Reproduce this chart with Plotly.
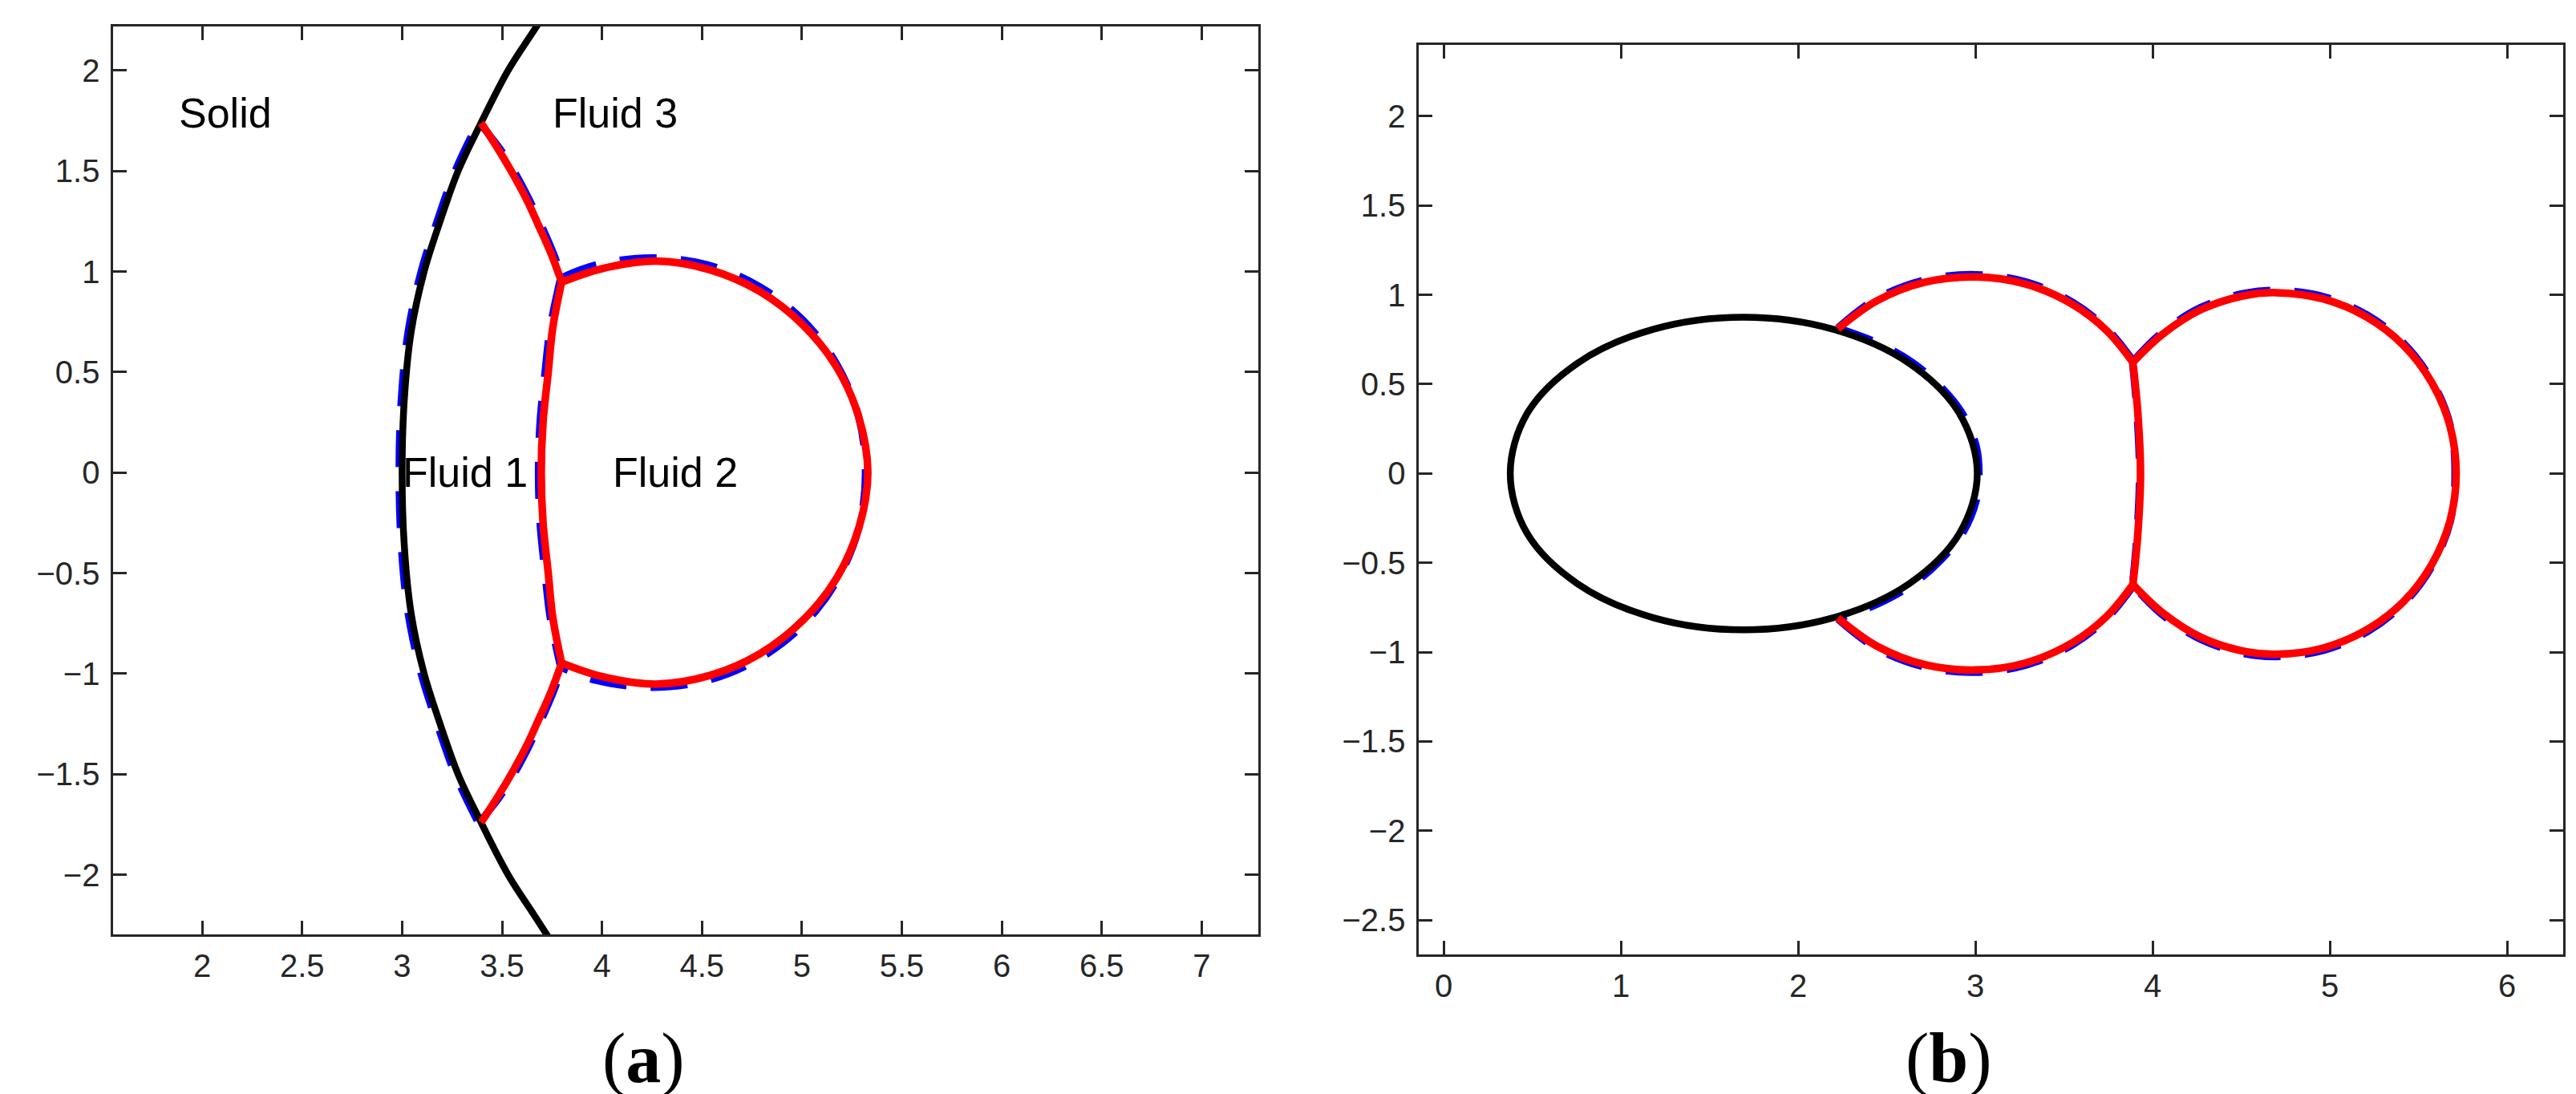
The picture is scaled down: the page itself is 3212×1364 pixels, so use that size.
import plotly.graph_objects as go

W, H = 3212, 1364

# ---------------- panel (a) data ----------------
wall_a_x = [3.79, 3.66, 3.53, 3.39, 3.28, 3.19, 3.11, 3.045, 3.01, 3.00, 3.01, 3.045, 3.11, 3.19, 3.28, 3.39, 3.53, 3.66, 3.79]
wall_a_y = [-2.4, -2.2, -2.0, -1.73, -1.5, -1.25, -1.0, -0.7, -0.35, 0.0, 0.35, 0.7, 1.0, 1.25, 1.5, 1.73, 2.0, 2.2, 2.4]

red_a_top_x = [3.395, 3.48, 3.556, 3.622, 3.681, 3.745, 3.798]
red_a_top_y = [1.740, 1.61, 1.482, 1.36, 1.233, 1.09, 0.948]
red_a_bot_x = [3.395, 3.48, 3.556, 3.622, 3.681, 3.745, 3.798]
red_a_bot_y = [-1.740, -1.61, -1.482, -1.36, -1.233, -1.09, -0.948]

red_a_mid_x = [3.798, 3.753, 3.731, 3.705, 3.696, 3.705, 3.731, 3.753, 3.798]
red_a_mid_y = [0.948, 0.716, 0.5, 0.25, 0.0, -0.25, -0.5, -0.716, -0.948]

red_a_drop_x = [3.800, 3.998, 4.270, 4.540, 4.790, 5.005, 5.175, 5.286, 5.330,
                5.286, 5.175, 5.005, 4.790, 4.540, 4.270, 3.998, 3.800]
red_a_drop_y = [0.948, 1.014, 1.052, 1.009, 0.901, 0.735, 0.523, 0.272, 0.0,
                -0.272, -0.523, -0.735, -0.901, -1.009, -1.052, -1.014, -0.948]

blue_a_wall_x = [3.375, 3.265, 3.175, 3.095, 3.03, 2.995, 2.985, 2.995, 3.03, 3.095, 3.175, 3.265, 3.375]
blue_a_wall_y = [-1.73, -1.5, -1.25, -1.0, -0.7, -0.35, 0.0, 0.35, 0.7, 1.0, 1.25, 1.5, 1.73]

blue_a_top_x = [3.39, 3.49, 3.57, 3.635, 3.695, 3.757, 3.805]
blue_a_top_y = [1.735, 1.61, 1.482, 1.36, 1.233, 1.09, 0.955]
blue_a_bot_x = [3.39, 3.49, 3.57, 3.635, 3.695, 3.757, 3.805]
blue_a_bot_y = [-1.735, -1.61, -1.482, -1.36, -1.233, -1.09, -0.955]

blue_a_mid_x = [3.79, 3.74, 3.715, 3.69, 3.682, 3.69, 3.715, 3.74, 3.79]
blue_a_mid_y = [0.955, 0.716, 0.5, 0.25, 0.0, -0.25, -0.5, -0.716, -0.955]

blue_a_drop_x = [3.798, 3.973, 4.25, 4.527, 4.785, 5.007, 5.177, 5.284, 5.318,
                 5.284, 5.177, 5.007, 4.785, 4.527, 4.25, 3.973, 3.798]
blue_a_drop_y = [0.970, 1.034, 1.068, 1.034, 0.927, 0.757, 0.535, 0.277, 0.0,
                 -0.277, -0.535, -0.757, -0.927, -1.034, -1.068, -1.034, -0.970]

labels_a_text = ["Solid", "Fluid 3", "Fluid 1", "Fluid 2"]
labels_a_x = [1.875, 3.745, 2.995, 4.045]
labels_a_y = [1.79, 1.79, 0.0, 0.0]

xt_a = [2, 2.5, 3, 3.5, 4, 4.5, 5, 5.5, 6, 6.5, 7]
xt_a_text = ["2", "2.5", "3", "3.5", "4", "4.5", "5", "5.5", "6", "6.5", "7"]
yt_a = [-2, -1.5, -1, -0.5, 0, 0.5, 1, 1.5, 2]
yt_a_text = ["\u22122", "\u22121.5", "\u22121", "\u22120.5", "0", "0.5", "1", "1.5", "2"]

# ---------------- panel (b) data ----------------
ell_b_x = [3.01, 2.91, 2.623, 2.195, 1.69, 1.185, 0.757, 0.47, 0.375,
           0.47, 0.757, 1.185, 1.69, 2.195, 2.623, 2.91, 3.01]
ell_b_y = [0.0, 0.335, 0.619, 0.808, 0.875, 0.808, 0.619, 0.335, 0.0,
           -0.335, -0.619, -0.808, -0.875, -0.808, -0.619, -0.335, 0.0]

red_b_l_top_x = [2.223, 2.443, 2.713, 3.000, 3.284, 3.547, 3.743, 3.888]
red_b_l_top_y = [0.809, 0.966, 1.070, 1.100, 1.060, 0.947, 0.797, 0.622]
red_b_l_bot_x = [2.223, 2.443, 2.713, 3.000, 3.284, 3.547, 3.743, 3.888]
red_b_l_bot_y = [-0.809, -0.966, -1.070, -1.100, -1.060, -0.947, -0.797, -0.622]

red_b_mid_x = [3.888, 3.915, 3.931, 3.915, 3.888]
red_b_mid_y = [0.622, 0.35, 0.0, -0.35, -0.622]

red_b_r_x = [3.888, 4.050, 4.272, 4.524, 4.700, 4.962, 5.206, 5.416, 5.576, 5.678, 5.712,
             5.678, 5.576, 5.416, 5.206, 4.962, 4.700, 4.524, 4.272, 4.050, 3.888]
red_b_r_y = [0.622, 0.775, 0.917, 0.997, 1.012, 0.977, 0.876, 0.716, 0.506, 0.262, 0.0,
             -0.262, -0.506, -0.716, -0.876, -0.977, -1.012, -0.997, -0.917, -0.775, -0.622]

blue_b_ell_x = [2.22, 2.45, 2.64, 2.80, 2.93, 3.005, 3.02, 3.005, 2.93, 2.80, 2.64, 2.45, 2.22]
blue_b_ell_y = [0.815, 0.73, 0.625, 0.49, 0.33, 0.15, 0.0, -0.15, -0.33, -0.49, -0.625, -0.73, -0.815]

blue_b_l_top_x = [2.223, 2.440, 2.712, 3.000, 3.287, 3.552, 3.748, 3.890]
blue_b_l_top_y = [0.815, 0.978, 1.083, 1.113, 1.072, 0.956, 0.804, 0.630]
blue_b_l_bot_x = [2.223, 2.440, 2.712, 3.000, 3.287, 3.552, 3.748, 3.890]
blue_b_l_bot_y = [-0.815, -0.978, -1.083, -1.113, -1.072, -0.956, -0.804, -0.630]

blue_b_mid_x = [3.885, 3.91, 3.925, 3.91, 3.885]
blue_b_mid_y = [0.63, 0.35, 0.0, -0.35, -0.63]

blue_b_r_x = [3.890, 4.048, 4.270, 4.523, 4.700, 4.964, 5.210, 5.420, 5.580, 5.680, 5.705,
              5.680, 5.580, 5.420, 5.210, 4.964, 4.700, 4.523, 4.270, 4.048, 3.890]
blue_b_r_y = [0.630, 0.786, 0.929, 1.010, 1.025, 0.990, 0.887, 0.725, 0.512, 0.265, 0.0,
              -0.265, -0.512, -0.725, -0.887, -0.990, -1.025, -1.010, -0.929, -0.786, -0.630]

xt_b = [0, 1, 2, 3, 4, 5, 6]
xt_b_text = ["0", "1", "2", "3", "4", "5", "6"]
yt_b = [-2.5, -2, -1.5, -1, -0.5, 0, 0.5, 1, 1.5, 2]
yt_b_text = ["\u22122.5", "\u22122", "\u22121.5", "\u22121", "\u22120.5", "0", "0.5", "1", "1.5", "2"]

panel_labels = ["(<b>a</b>)", "(<b>b</b>)"]

# ---------------- styles ----------------
RED = "#ff0000"
BLUE = "#0000ff"
BLACK = "#000000"
AX = "#262626"
LW_RED, LW_BLK, LW_BLU = 9.5, 8.5, 9
DASH = "46px,30px"

fig = go.Figure()

def add(x, y, color, width, dash="solid", xa="x", ya="y"):
    fig.add_trace(go.Scatter(x=x, y=y, mode="lines", xaxis=xa, yaxis=ya,
                             line=dict(color=color, width=width, dash=dash, shape="spline", smoothing=1.0),
                             showlegend=False, hoverinfo="skip"))

# panel (a): blue under, black, red on top
for bx, by in [(blue_a_wall_x, blue_a_wall_y), (blue_a_top_x, blue_a_top_y), (blue_a_bot_x, blue_a_bot_y),
               (blue_a_mid_x, blue_a_mid_y), (blue_a_drop_x, blue_a_drop_y)]:
    add(bx, by, BLUE, LW_BLU, DASH)
add(wall_a_x, wall_a_y, BLACK, LW_BLK)
for rx, ry in [(red_a_top_x, red_a_top_y), (red_a_bot_x, red_a_bot_y), (red_a_mid_x, red_a_mid_y),
               (red_a_drop_x, red_a_drop_y)]:
    add(rx, ry, RED, LW_RED)

# panel (b)
for bx, by in [(blue_b_ell_x, blue_b_ell_y), (blue_b_l_top_x, blue_b_l_top_y), (blue_b_l_bot_x, blue_b_l_bot_y),
               (blue_b_mid_x, blue_b_mid_y), (blue_b_r_x, blue_b_r_y)]:
    add(bx, by, BLUE, LW_BLU, DASH, "x2", "y2")
add(ell_b_x, ell_b_y, BLACK, LW_BLK, "solid", "x2", "y2")
for rx, ry in [(red_b_l_top_x, red_b_l_top_y), (red_b_l_bot_x, red_b_l_bot_y), (red_b_mid_x, red_b_mid_y),
               (red_b_r_x, red_b_r_y)]:
    add(rx, ry, RED, LW_RED, "solid", "x2", "y2")

tickfont = dict(family="Liberation Sans, Arial, sans-serif", size=40, color=AX)
common = dict(showline=True, linecolor=AX, linewidth=2.7, mirror="ticks", ticks="inside",
              ticklen=17, tickwidth=2.7, tickcolor=AX, showgrid=False, zeroline=False,
              tickfont=tickfont, fixedrange=True)

# pixel geometry of the panels
a_l, a_r, a_t, a_b = 133.3, 1560.7, 25.0, 1157.3
b_l, b_r, b_t, b_b = 1761.3, 3188.3, 47.7, 1182.0

fig.update_layout(
    width=W, height=H, margin=dict(l=0, r=0, t=0, b=0),
    paper_bgcolor="white", plot_bgcolor="white",
    xaxis=dict(common, domain=[a_l / W, a_r / W], range=[1.555, 7.2825], tickvals=xt_a, ticktext=xt_a_text,
               anchor="y", ticklabelstandoff=2),
    yaxis=dict(common, domain=[1 - a_b / H, 1 - a_t / H], range=[-2.298, 2.219], tickvals=yt_a, ticktext=yt_a_text,
               anchor="x", ticklabelstandoff=6),
    xaxis2=dict(common, domain=[b_l / W, b_r / W], range=[-0.140, 6.317], tickvals=xt_b, ticktext=xt_b_text,
                anchor="y2", ticklabelstandoff=2),
    yaxis2=dict(common, domain=[1 - b_b / H, 1 - b_t / H], range=[-2.692, 2.40], tickvals=yt_b, ticktext=yt_b_text,
                anchor="x2", ticklabelstandoff=6),
)

for t, x, y in zip(labels_a_text, labels_a_x, labels_a_y):
    fig.add_annotation(x=x, y=y, xref="x", yref="y", text=t, showarrow=False, xanchor="left", yanchor="middle",
                       font=dict(family="Liberation Sans, Arial, sans-serif", size=52, color=BLACK))

for t, px in zip(panel_labels, [794.0, 2422.0]):
    fig.add_annotation(x=px / W, y=1 - 1311 / H, xref="paper", yref="paper", text=t, showarrow=False,
                       xanchor="center", yanchor="middle",
                       font=dict(family="Liberation Serif, Times New Roman, serif", size=88, color=BLACK))

fig.write_html("out.html")
